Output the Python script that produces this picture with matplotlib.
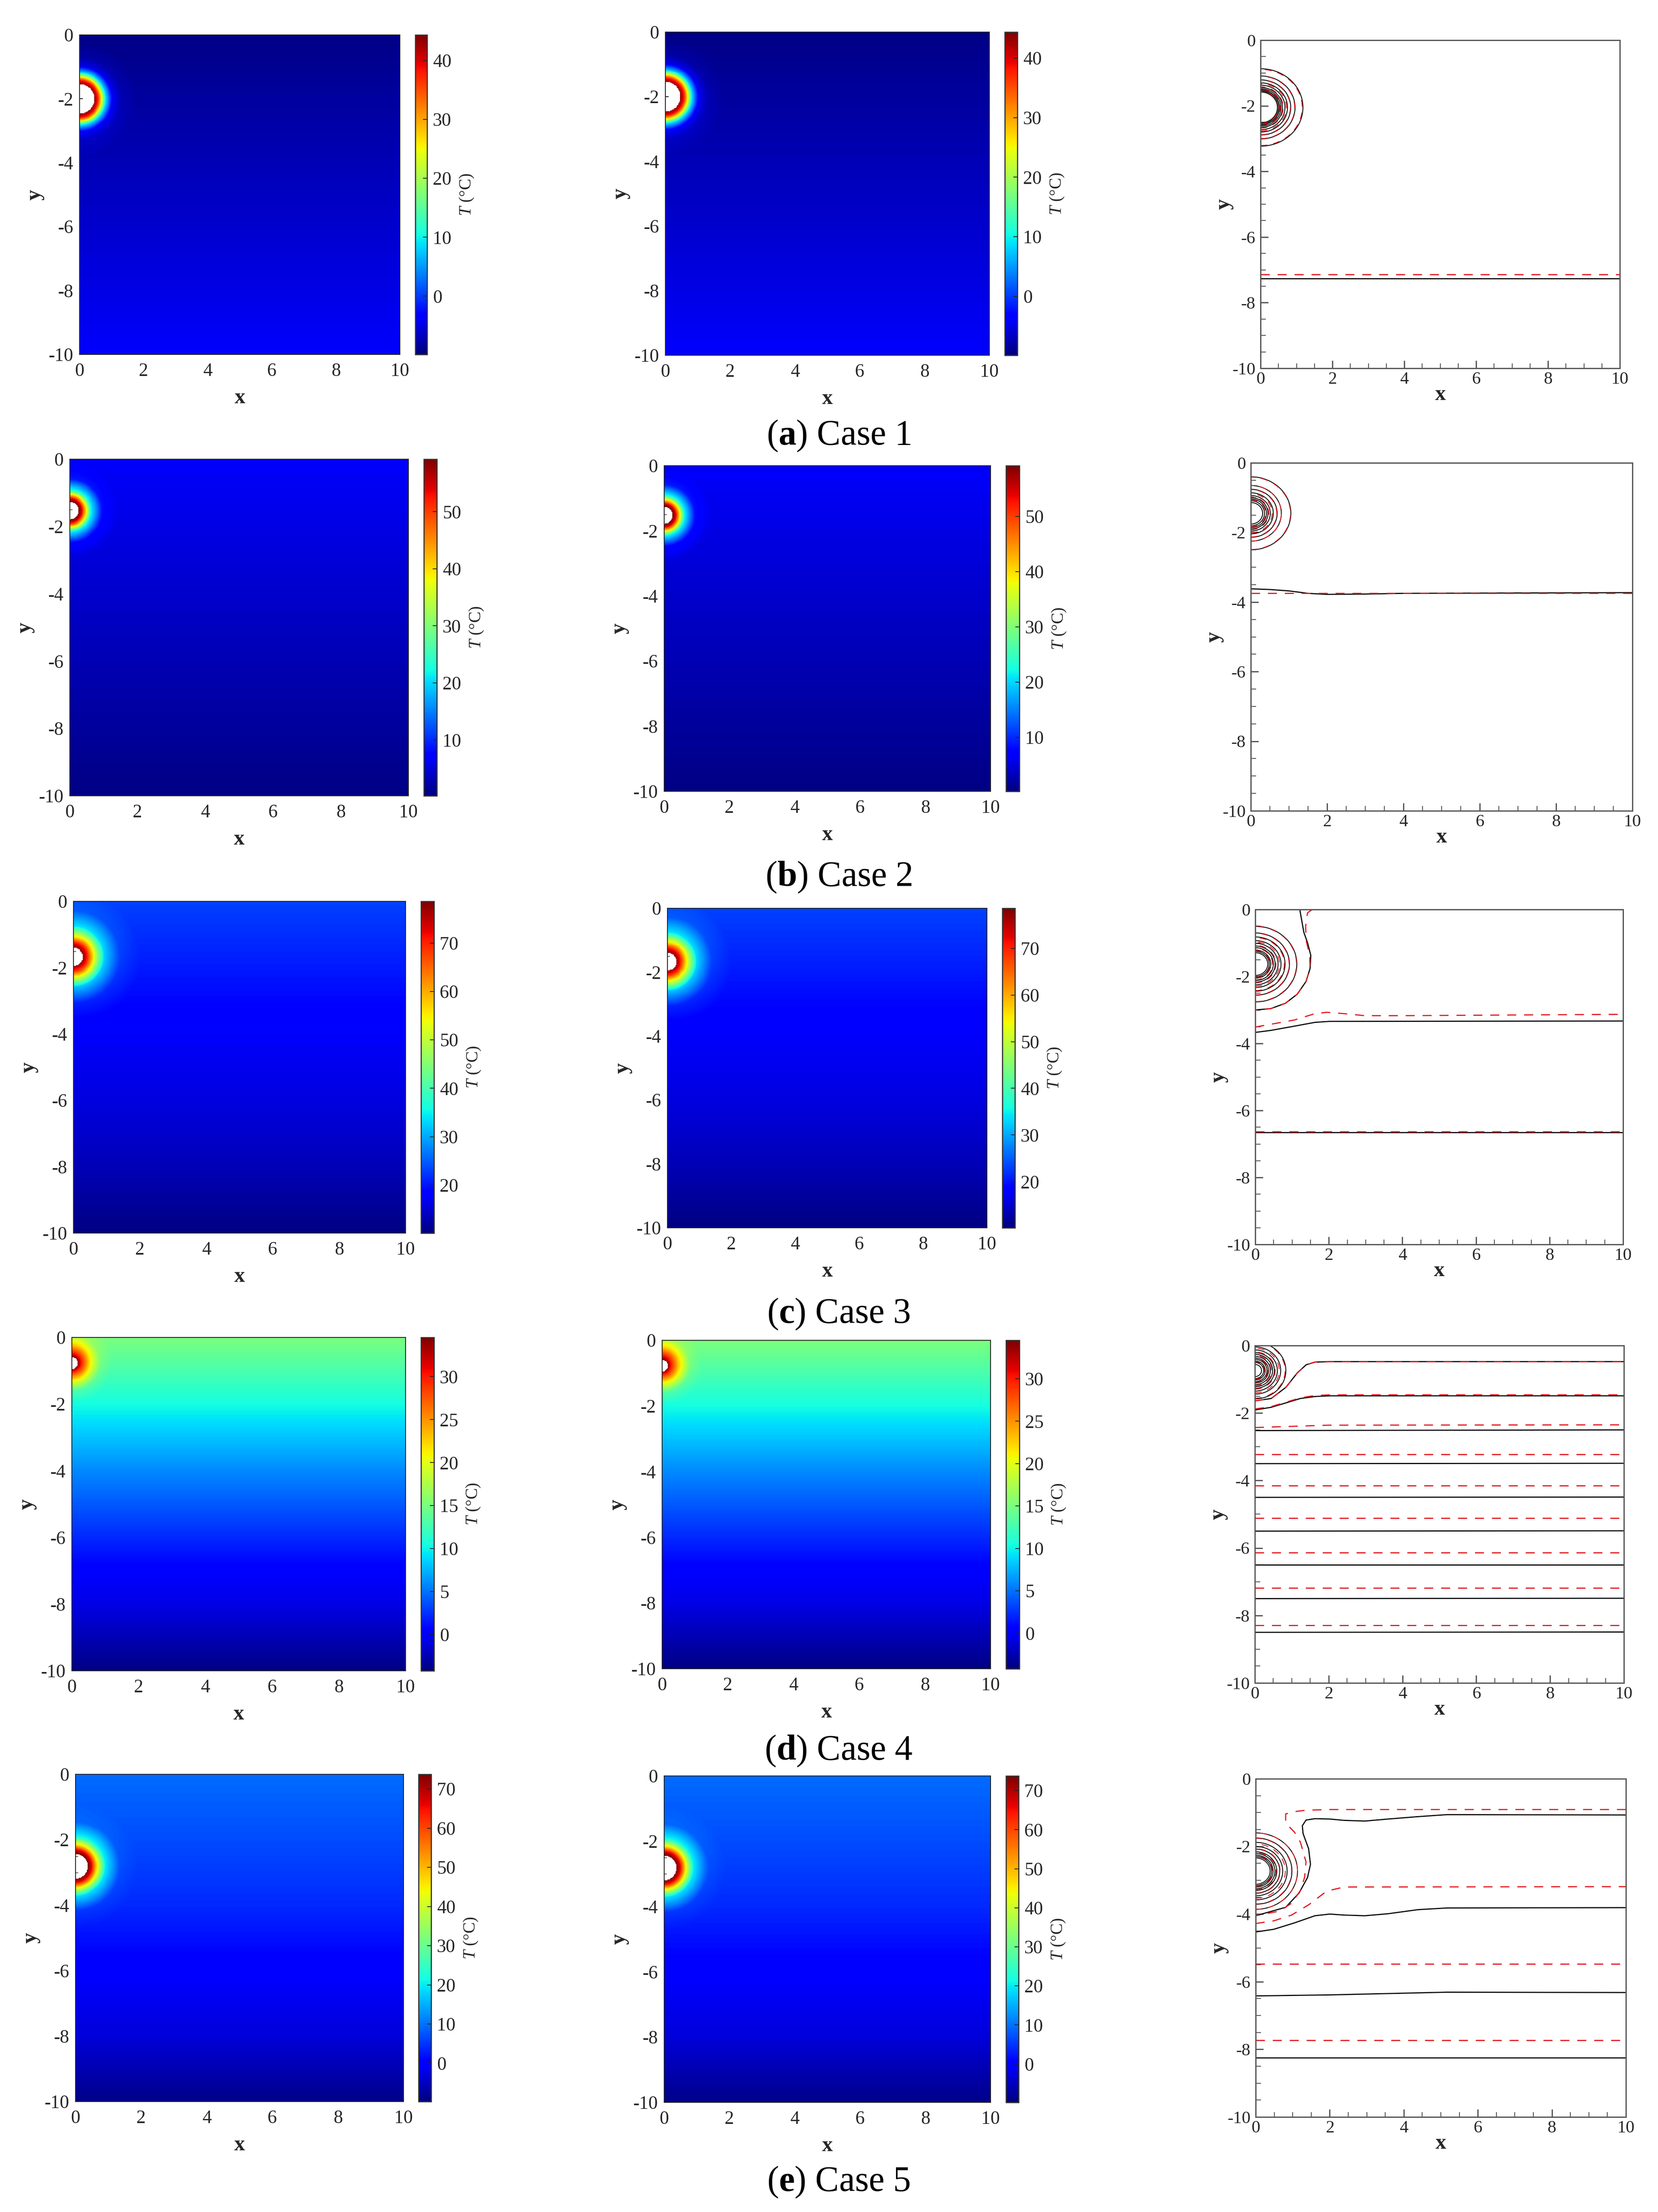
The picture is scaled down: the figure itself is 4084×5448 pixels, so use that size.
#!/usr/bin/env python
import matplotlib
matplotlib.use("Agg")
import matplotlib.pyplot as plt
import numpy as np

W, H = 4084, 5448
SERIF = "Liberation Serif"
TEXT = "#262626"

plt.rcParams["font.family"] = SERIF
plt.rcParams["mathtext.fontset"] = "custom"
plt.rcParams["mathtext.rm"] = SERIF
plt.rcParams["mathtext.it"] = SERIF + ":italic"
plt.rcParams["mathtext.bf"] = SERIF + ":bold"
plt.rcParams["axes.unicode_minus"] = False

captions = ["a", "b", "c", "d", "e"]
case_names = ["Case 1", "Case 2", "Case 3", "Case 4", "Case 5"]
xy_ticks = [0, 2, 4, 6, 8, 10]
x_tick_labels = ["0", "2", "4", "6", "8", "10"]
y_ticks = [0, -2, -4, -6, -8, -10]
y_tick_labels = ["0", "-2", "-4", "-6", "-8", "-10"]

# colour range and colourbar ticks
t_min = [-9.9, 0.2, 10.1, -4.2, -9.8]
t_max = [44.35, 59.2, 78.6, 34.55, 73.75]
cbar_ticks = [
    [0, 10, 20, 30, 40],
    [10, 20, 30, 40, 50],
    [20, 30, 40, 50, 60, 70],
    [0, 5, 10, 15, 20, 25, 30],
    [0, 10, 20, 30, 40, 50, 60, 70],
]

# temperature far from the source, read down the y axis
bg_y = [
    [-10, 0],
    [-10, 0],
    [-10, -8, -6, -4, -2, 0],
    [-10, -8, -7.2, -6, -4, -2.4, 0],
    [-10, -8, -6, -4, -2, 0],
]
bg_t = [
    [-3.9, -9.5],
    [0.5, 6.7],
    [10.4, 13.5, 15.9, 17.6, 20.4, 23.1],
    [-4.0, -0.7, 0.06, 2.2, 5.9, 9.4, 15.2],
    [-9.0, -3.1, -0.2, 4.0, 6.9, 9.6],
]

# source position and temperature above background against radius
source_y = [-2.0, -1.53, -1.67, -0.77, -2.82]
source_r = [0.46, 0.26, 0.28, 0.18, 0.38]
rad_r = [
    [0.46, 0.58, 0.69, 0.82, 1.03, 1.3, 1.8],
    [0.26, 0.36, 0.47, 0.62, 0.95, 1.4],
    [0.28, 0.42, 0.62, 0.92, 1.4, 2.0],
    [0.18, 0.27, 0.565, 0.85, 1.2],
    [0.38, 0.5, 0.66, 0.9, 1.35, 1.9],
]
rad_t = [
    [52.0, 46.0, 33.0, 17.0, 4.0, 1.0, 0.0],
    [54.7, 48.0, 34.5, 16.5, 2.5, 0.0],
    [56.6, 49.0, 32.6, 12.0, 2.0, 0.0],
    [21.0, 16.8, 7.5, 1.5, 0.0],
    [69.0, 60.0, 39.5, 14.5, 1.5, 0.0],
]

# contour panels: closed rings round the source
ring_y = [-2.05, -1.45, -1.63, -0.74, -2.73]
black_rings = [
    [0.47, 0.5, 0.53, 0.57, 0.61, 0.68, 0.75, 0.84, 0.96, 1.18],
    [0.31, 0.36, 0.41, 0.45, 0.51, 0.59, 0.69, 0.8, 1.05],
    [0.34, 0.38, 0.42, 0.49, 0.54, 0.62, 0.7, 0.81, 0.93, 1.13],
    [0.18, 0.24, 0.28, 0.33, 0.37, 0.42, 0.48, 0.53, 0.61, 0.7, 0.84],
    [0.39, 0.43, 0.47, 0.52, 0.57, 0.65, 0.73, 0.85, 0.98, 1.13],
]
red_rings = [
    [0.49, 0.55, 0.63, 0.72, 0.83, 0.95, 1.16],
    [0.39, 0.47, 0.56, 0.68, 0.8, 1.04],
    [0.4, 0.47, 0.56, 0.66, 0.79, 0.92, 1.12],
    [0.26, 0.35, 0.45, 0.55, 0.66, 0.82],
    [0.45, 0.55, 0.66, 0.8, 0.97, 1.13],
]

# contour panels: open lines as (x, y)
black_x = [
    [[0, 10]],
    [[0, 0.5, 1, 1.5, 2, 3, 4, 10]],
    [
        [1.21, 1.32, 1.42, 1.51, 1.49, 1.38, 1.14, 0.82, 0.42, 0],
        [0, 0.42, 0.98, 1.62, 2.02, 10],
        [0, 10],
    ],
    [
        [0, 0.44, 0.84, 1.15, 1.39, 1.63, 2.03, 10],
        [0, 0.44, 0.84, 1.23, 1.63, 2.03, 10],
        [0, 10], [0, 10], [0, 10], [0, 10], [0, 10], [0, 10], [0, 10],
    ],
    [
        [0, 0.81, 1.17, 1.40, 1.48, 1.43, 1.28, 1.26, 1.36, 1.60, 2.0, 2.39, 2.95, 3.58, 4.38, 5.17, 10],
        [0, 0.49, 1.05, 1.6, 2, 2.39, 2.95, 3.58, 4.38, 5.17, 10],
        [0, 2, 3.98, 5.17, 10],
        [0, 10],
    ],
]
black_y = [
    [[-7.26, -7.26]],
    [[-3.62, -3.64, -3.68, -3.75, -3.78, -3.77, -3.75, -3.73]],
    [
        [0, -0.68, -0.99, -1.37, -1.76, -2.15, -2.53, -2.8, -2.96, -3.0],
        [-3.67, -3.61, -3.5, -3.37, -3.34, -3.33],
        [-6.66, -6.66],
    ],
    [
        [-1.64, -1.57, -1.24, -0.81, -0.57, -0.49, -0.476, -0.476],
        [-1.91, -1.83, -1.70, -1.57, -1.51, -1.49, -1.49],
        [-2.52, -2.5], [-3.5, -3.49], [-4.5, -4.49], [-5.5, -5.49],
        [-6.5, -6.5], [-7.5, -7.49], [-8.5, -8.49],
    ],
    [
        [-4.05, -3.80, -3.38, -2.92, -2.53, -2.07, -1.62, -1.39, -1.22, -1.18, -1.19, -1.23, -1.25, -1.19, -1.12, -1.06, -1.07],
        [-4.53, -4.45, -4.26, -4.05, -4.0, -4.03, -4.05, -3.99, -3.87, -3.82, -3.81],
        [-6.42, -6.39, -6.34, -6.31, -6.32],
        [-8.25, -8.25],
    ],
]
red_x = [
    [[0, 10]],
    [[0, 10]],
    [
        [1.55, 1.42, 1.37, 1.38, 1.48, 1.49, 1.38, 1.14, 0.82, 0.42, 0],
        [0, 1.06, 1.62, 1.94, 2.42, 2.98, 4, 10],
        [0, 10],
    ],
    [
        [0, 0.44, 0.84, 1.15, 1.39, 1.63, 2.03, 10],
        [0, 0.44, 0.84, 1.23, 1.63, 2.03, 10],
        [0, 2, 10], [0, 10], [0, 10], [0, 10], [0, 10], [0, 10], [0, 10],
    ],
    [
        [10, 2, 1.36, 1.05, 0.81, 0.81, 1.05, 1.21, 1.28, 1.36, 1.32, 1.21, 0.97, 0.65, 0],
        [0, 0.49, 0.97, 1.44, 1.92, 2.39, 10],
        [0, 10],
        [0, 10],
    ],
]
red_y = [
    [[-7.14, -7.14]],
    [[-3.75, -3.75]],
    [
        [0, -0.1, -0.5, -0.91, -1.37, -1.76, -2.15, -2.53, -2.8, -2.96, -3.0],
        [-3.51, -3.3, -3.11, -3.07, -3.11, -3.17, -3.17, -3.13],
        [-6.63, -6.63],
    ],
    [
        [-1.64, -1.57, -1.24, -0.81, -0.57, -0.49, -0.48, -0.48],
        [-1.88, -1.81, -1.68, -1.55, -1.48, -1.46, -1.46],
        [-2.43, -2.36, -2.35], [-3.23, -3.23], [-4.155, -4.155], [-5.12, -5.12],
        [-6.14, -6.14], [-7.19, -7.19], [-8.29, -8.29],
    ],
    [
        [-0.91, -0.91, -0.93, -0.97, -1.04, -1.31, -1.58, -1.88, -2.15, -2.46, -2.92, -3.3, -3.68, -3.91, -4.05],
        [-4.28, -4.2, -4.03, -3.72, -3.32, -3.2, -3.19],
        [-5.47, -5.47],
        [-7.73, -7.73],
    ],
]

# panel boxes in reference pixels: left, right, top, bottom
left_boxes = [(196, 985, 86, 873), (172, 1006, 1131, 1960), (181, 999, 2220, 3037),
              (177, 999, 3294, 4115), (186, 994, 4370, 5176)]
left_cbars = [(1023, 1052), (1044, 1076), (1037, 1069), (1037, 1069), (1031, 1062)]
mid_boxes = [(1639, 2437, 79, 875), (1636, 2440, 1147, 1949), (1644, 2431, 2237, 3024),
             (1631, 2440, 3301, 4110), (1636, 2440, 4374, 5178)]
mid_cbars = [(2475, 2506), (2478, 2511), (2469, 2500), (2478, 2511), (2478, 2509)]
right_boxes = [(3105, 3990, 99, 907), (3081, 4021, 1140, 1997), (3092, 3998, 2240, 3065),
               (3091, 4000, 3314, 4145), (3093, 4005, 4381, 5214)]
caption_y = [1095, 2182, 3258, 4334, 5396]


def add_box(fig, left, right, top, bottom):
    return fig.add_axes([left / W, 1 - bottom / H, (right - left) / W, (bottom - top) / H])


def temperature_field(i):
    xs = np.arange(0.0125, 10, 0.025)
    ys = np.arange(-0.0125, -10, -0.025)
    xx, yy = np.meshgrid(xs, ys)
    rr = np.hypot(xx, yy - source_y[i])
    field = np.interp(yy, bg_y[i], bg_t[i]) + np.interp(rr, rad_r[i], rad_t[i])
    field[rr < source_r[i]] = np.nan
    return field


def style_axes(ax, color, lw, size, length, minor_len, pad_x, pad_y, xlabel_pad, ylabel_pad):
    ax.set_xlim(0, 10)
    ax.set_ylim(-10, 0)
    ax.set_xticks(xy_ticks, x_tick_labels)
    ax.set_yticks(y_ticks, y_tick_labels)
    ax.set_xticks(np.arange(0, 10.5, 0.5), minor=True)
    ax.set_yticks(np.arange(-10, 0.5, 0.5), minor=True)
    ax.tick_params(axis="x", which="major", direction="in", length=length, width=lw, color=color,
                   labelsize=size, labelcolor=TEXT, pad=pad_x)
    ax.tick_params(axis="y", which="major", direction="in", length=length, width=lw, color=color,
                   labelsize=size, labelcolor=TEXT, pad=pad_y)
    ax.tick_params(which="minor", direction="in", length=minor_len, width=lw * 0.7, color=color)
    for spine in ax.spines.values():
        spine.set_linewidth(lw)
        spine.set_color(color)
    ax.set_xlabel("x", fontsize=38, fontweight="bold", color=TEXT, labelpad=xlabel_pad)
    ax.set_ylabel("y", fontsize=38, fontweight="bold", color=TEXT, labelpad=ylabel_pad)


def draw_heatmap(fig, i, box, cbar_box):
    ax = add_box(fig, *box)
    ax.set_axisbelow(True)
    im = ax.imshow(temperature_field(i), extent=[0, 10, -10, 0], origin="upper", aspect="auto",
                   cmap="jet", vmin=t_min[i], vmax=t_max[i], interpolation="nearest", zorder=1)
    style_axes(ax, "#222222", 1.5, 33, 6, 4, 15, 11, 14, 7)
    cax = add_box(fig, cbar_box[0], cbar_box[1], box[2], box[3])
    cbar = fig.colorbar(im, cax=cax)
    cbar.set_ticks(cbar_ticks[i], labels=[str(t) for t in cbar_ticks[i]])
    cbar.ax.tick_params(direction="in", length=7, width=1.4, color="#222222", labelsize=33,
                        labelcolor=TEXT, pad=10)
    cbar.outline.set_linewidth(2)
    cbar.outline.set_edgecolor("#333333")
    cbar.set_label(r"$\mathit{T}$ (°C)", fontsize=30, color=TEXT, labelpad=12)


def draw_contours(fig, i, box):
    ax = add_box(fig, *box)
    theta = np.radians(np.arange(-90, 91, 3))
    for r in black_rings[i]:
        ax.plot(r * np.cos(theta), ring_y[i] + r * np.sin(theta), color="black", lw=1.5)
    for r in red_rings[i]:
        ax.plot(r * np.cos(theta), ring_y[i] + r * np.sin(theta), color="#e0141c", lw=1.5,
                linestyle=(0, (8, 7)))
    for xs, ys in zip(black_x[i], black_y[i]):
        ax.plot(xs, ys, color="black", lw=2.0)
    for xs, ys in zip(red_x[i], red_y[i]):
        ax.plot(xs, ys, color="#e0141c", lw=2.0, linestyle=(0, (8, 7)))
    style_axes(ax, "#555555", 2.2, 31, 14, 9, 6, 9, -4, -2)


def main():
    fig = plt.figure(figsize=(W / 100, H / 100), dpi=100)
    for i in range(5):
        draw_heatmap(fig, i, left_boxes[i], left_cbars[i])
        draw_heatmap(fig, i, mid_boxes[i], mid_cbars[i])
        draw_contours(fig, i, right_boxes[i])
        fig.text(2066 / W, 1 - caption_y[i] / H, rf"($\mathbf{{{captions[i]}}}$) {case_names[i]}",
                 fontsize=63, color="black", ha="center", va="baseline")
    fig.savefig("out.png", dpi=100)


if __name__ == "__main__":
    main()
